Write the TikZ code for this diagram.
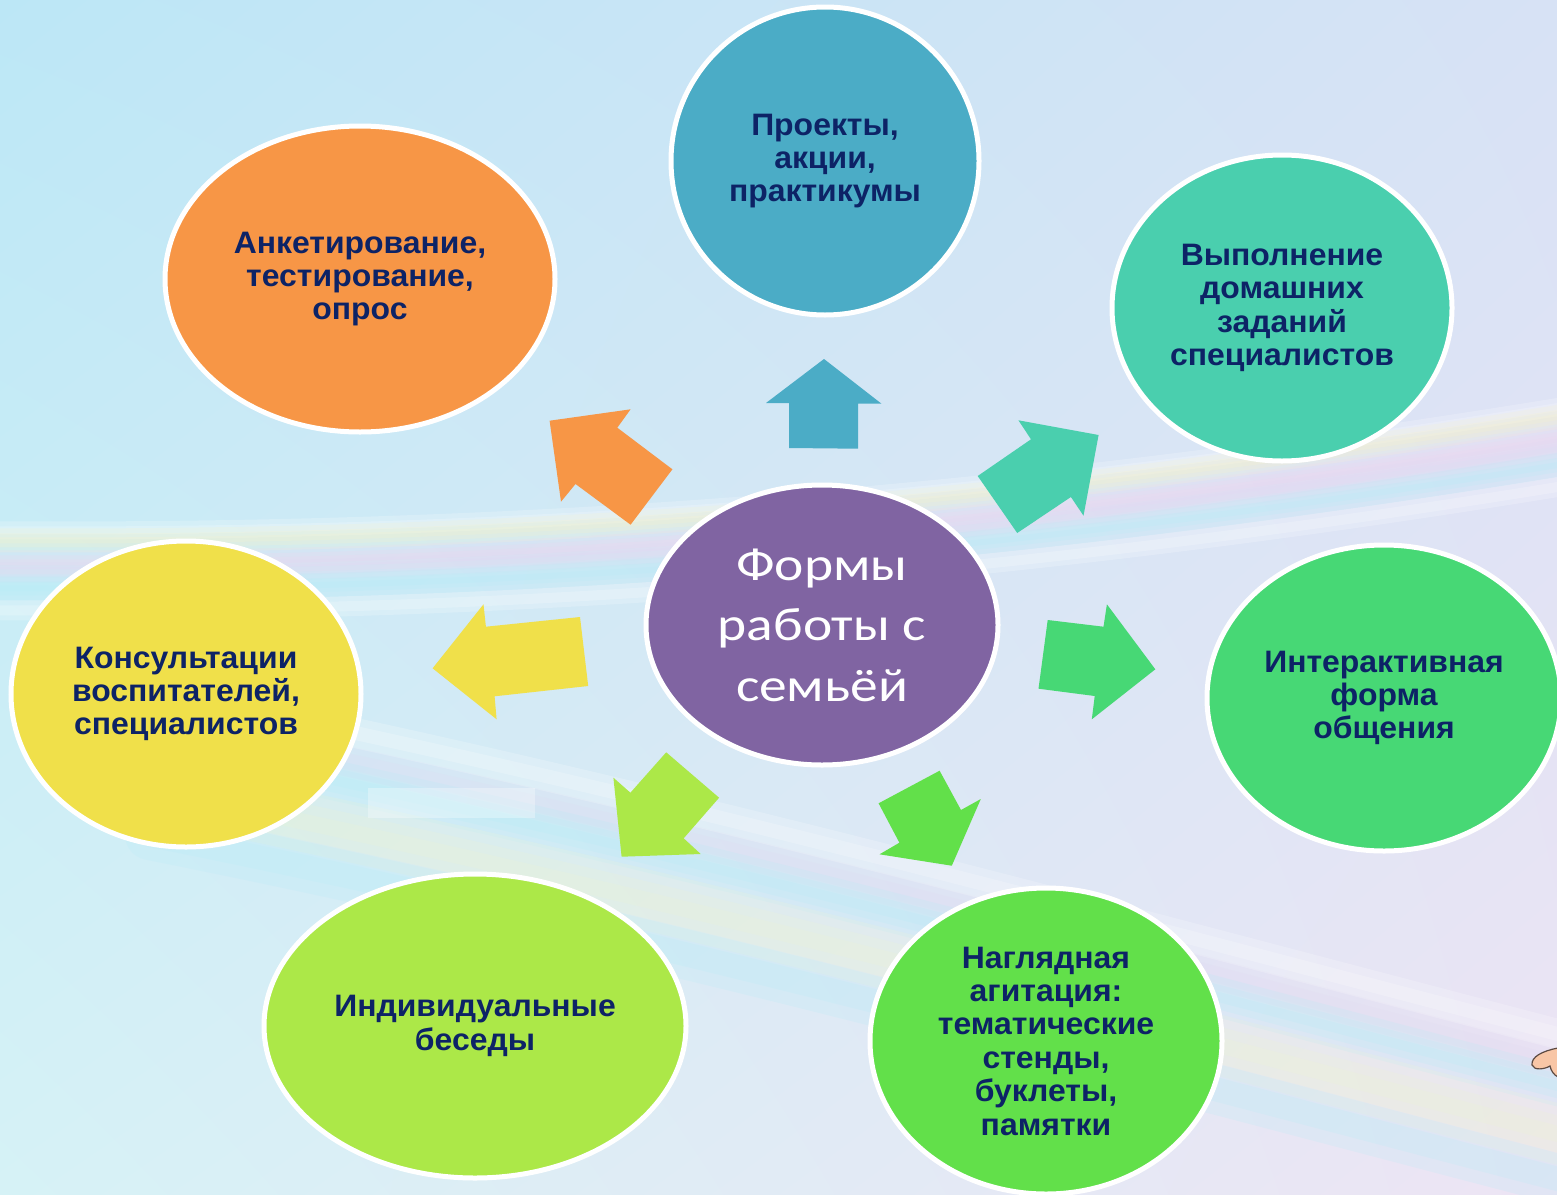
\documentclass[tikz,border=0pt]{standalone}
\usepackage{fontspec}
\setmainfont[FakeStretch=1.03]{Liberation Sans}
\newfontfamily\calib[FakeStretch=1.18]{Carlito}
\usetikzlibrary{shapes.geometric,shadings}

\definecolor{cOrange}{HTML}{F79646}
\definecolor{cBlue}{HTML}{4BACC6}
\definecolor{cTeal}{HTML}{4ACFAE}
\definecolor{cPurple}{HTML}{8064A2}
\definecolor{cYellow}{HTML}{F0E04A}
\definecolor{cGreenR}{HTML}{47D875}
\definecolor{cLime}{HTML}{ACE848}
\definecolor{cGreenB}{HTML}{62E04A}
\definecolor{navy}{HTML}{0D2366}
\definecolor{bgUL}{HTML}{BCE7F6}
\definecolor{bgUR}{HTML}{D7E2F5}
\definecolor{bgLL}{HTML}{D6F2F6}
\definecolor{bgLR}{HTML}{EDE4F4}
\definecolor{rbPink}{HTML}{F2D4EE}
\definecolor{rbYellow}{HTML}{FAF4C8}
\definecolor{rbCyan}{HTML}{B4ECF6}
\definecolor{rbLav}{HTML}{E0D8F2}
\definecolor{rbLime}{HTML}{EEF5D2}
\definecolor{skin}{HTML}{F8C6A6}
\definecolor{skinline}{HTML}{5C4A42}

\tikzset{
  bub/.style={ellipse, draw=white, line width=5pt, inner sep=0pt, align=center,
    text=navy, font=\fontsize{31}{33.4}\selectfont\bfseries},
  blockarrow/.style={draw=none},
  band/.style={line width=#1, opacity=0.2, line cap=round}
}

% colour, vertical offset, widths
\newcommand\upstripe[3]{%
  \foreach \w in {#3}{\draw[#1, band=\w pt, shift={(0,#2)}]
    (-40,540) .. controls (500,545) and (1000,510) .. (1600,410);}%
}
\newcommand\lowstripe[3]{%
  \foreach \w in {#3}{\draw[#1, band=\w pt, shift={(0,#2)}]
    (150,720) .. controls (650,820) and (1100,945) .. (1600,1075);}%
}

\begin{document}
\begin{tikzpicture}[x=1pt,y=-1pt]
\useasboundingbox (0,0) rectangle (1557,1194);
% background
\shade[upper left=bgUL, upper right=bgUR, lower left=bgLL, lower right=bgLR]
  (0,0) rectangle (1557,1194);
% rainbow band (upper)
\upstripe{white}{-10}{18,8}
\upstripe{rbYellow}{0}{24,14,6}
\upstripe{rbPink}{22}{24,14,6}
\upstripe{rbLav}{32}{20,10}
\upstripe{rbCyan}{48}{24,14,6}
\upstripe{white}{70}{20,10}
% rainbow band (lower)
\lowstripe{rbLav}{0}{30,16}
\lowstripe{rbCyan}{22}{40,24,10}
\lowstripe{white}{-30}{30,14}
\lowstripe{rbLime}{70}{60,36,16}
\lowstripe{rbCyan}{115}{50,24}
\fill[white, opacity=0.3] (368,788) rectangle (535,818);

% block arrows
\fill[cOrange, blockarrow] (549.6,420.7) -- (630.6,409.3) -- (617.3,427.7) -- (672.4,469.3)
  -- (630.6,524.7) -- (575.5,484) -- (561,501.7) -- cycle;
\fill[cBlue, blockarrow] (824,359) -- (881.5,403.7) -- (858,403.7) -- (858,448.7)
  -- (789,448) -- (789,403) -- (766,403) -- cycle;
\fill[cTeal, blockarrow] (1018.4,420.3) -- (1098.6,435) -- (1083.5,515.7) -- (1070.9,497)
  -- (1017.2,533) -- (977.7,476) -- (1031,439.3) -- cycle;
\fill[cYellow, blockarrow] (432.6,668.3) -- (483.5,604.3) -- (485.9,626.7) -- (580,617)
  -- (588.2,686) -- (494.6,696.3) -- (496.6,719.3) -- cycle;
\fill[cGreenR, blockarrow] (1155.3,669.3) -- (1091.8,719.3) -- (1094.7,696) -- (1038.5,688.7)
  -- (1047.7,620) -- (1103.5,626.7) -- (1106.9,604.3) -- cycle;
\fill[cLime, blockarrow] (666.2,752.3) -- (719.1,797.7) -- (683.7,838.3) -- (700.7,854)
  -- (621.6,856.7) -- (613.4,777.7) -- (630.4,792.7) -- cycle;
\fill[cGreenB, blockarrow] (878.6,803.3) -- (939.6,770.7) -- (961,810) -- (980.8,799)
  -- (951.8,865.7) -- (879.5,854.3) -- (899.4,842.7) -- cycle;

% ellipses
\node[bub, fill=cOrange, minimum width=390pt, minimum height=306pt] (anket) at (360,279)
  {Анкетирование,\\тестирование,\\опрос};
\node[bub, fill=cBlue, minimum width=308pt, minimum height=308pt] (proj) at (825,161)
  {Проекты,\\акции,\\практикумы};
\node[bub, fill=cTeal, minimum width=340pt, minimum height=306pt] (homew) at (1282,308)
  {Выполнение\\домашних\\заданий\\специалистов};
\node[bub, fill=cYellow, minimum width=350pt, minimum height=306pt] (consult) at (186,694)
  {Консультации\\воспитателей,\\специалистов};
\node[bub, fill=cGreenR, minimum width=354pt, minimum height=306pt] (inter) at (1384,698)
  {Интерактивная\\форма\\общения};
\node[bub, fill=cLime, minimum width=422pt, minimum height=304pt] (indiv) at (475,1026)
  {Индивидуальные\\беседы};
\node[bub, fill=cGreenB, minimum width=352pt, minimum height=306pt] (visual) at (1046,1041)
  {Наглядная\\агитация:\\тематические\\стенды,\\буклеты,\\памятки};
\node[bub, fill=cPurple, minimum width=352pt, minimum height=280pt, text=white,
  font=\calib\fontsize{47}{60.5}\selectfont] (center) at (822,625)
  {Формы\\работы с\\семьёй};

% small hand at bottom right
\draw[fill=skin, draw=skinline, line width=1.2pt] (1558,1048)
  .. controls (1542,1051) and (1531,1057) .. (1532,1065)
  .. controls (1534,1071) and (1545,1069) .. (1550,1066)
  .. controls (1551,1071) and (1554,1075) .. (1558,1077) -- cycle;
\end{tikzpicture}
\end{document}
